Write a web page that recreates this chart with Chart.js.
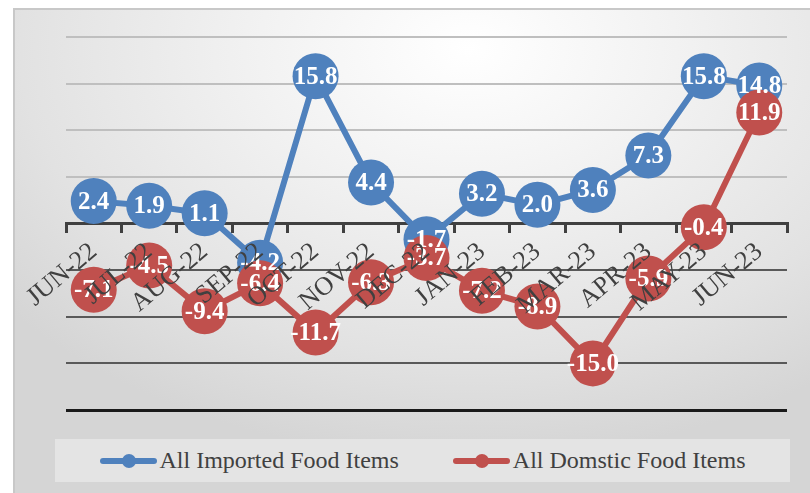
<!DOCTYPE html>
<html>
<head>
<meta charset="utf-8">
<script src="https://cdn.jsdelivr.net/npm/chart.js@4"></script>
<style>
  body { margin: 0; background: #fff; }
  #frame {
    position: absolute; left: 13px; top: 8px; width: 797px; height: 485px;
    border-left: 2px solid #c8c8c8; border-top: 2px solid #c8c8c8;
    box-sizing: border-box;
    background: radial-gradient(ellipse 75% 85% at 57% 8%, #ffffff 0%, #f2f2f2 35%, #e2e2e2 75%, #d5d5d5 100%);
  }
  #wrap { position: absolute; left: 0; top: 0; width: 810px; height: 493px; }
  #legend {
    position: absolute; left: 55px; top: 439px; width: 735px; height: 43px;
    background: #e4e4e4; display: flex; align-items: center; justify-content: center;
    font-family: "Liberation Serif", "Times New Roman", serif; font-size: 24px; color: #404040;
  }
  .item { display: flex; align-items: center; }
  .item + .item { margin-left: 54px; }
  .mark { position: relative; width: 57px; height: 6px; border-radius: 3px; margin-right: 3px; }
  .mark::after {
    content: ""; position: absolute; left: 22px; top: -4px; width: 14px; height: 14px;
    border-radius: 50%; background: inherit;
  }
</style>
</head>
<body>
<div id="frame"></div>
<div id="wrap"><canvas id="chart" width="810" height="493"></canvas></div>
<div id="legend"></div>
<script>
// data
const months = ['JUN-22', 'JUL-22', 'AUG-22', 'SEP-22', 'OCT-22', 'NOV-22', 'DEC-22',
                'JAN-23', 'FEB-23', 'MAR-23', 'APR-23', 'MAY-23', 'JUN-23'];
const imported = [2.4, 1.9, 1.1, -4.2, 15.8, 4.4, -1.7, 3.2, 2.0, 3.6, 7.3, 15.8, 14.8];
const domestic = [-7.1, -4.5, -9.4, -6.4, -11.7, -6.3, -3.7, -7.2, -8.9, -15.0, -5.9, -0.4, 11.9];
const seriesNames = ['All Imported Food Items', 'All Domstic Food Items'];
const yMin = -20, yMax = 20, yStep = 5;

const BLUE = '#4f81bd', RED = '#c0504d';
const serif = '"Liberation Serif", "Times New Roman", serif';

// white value inside each marker
const valueLabels = {
  id: 'valueLabels',
  afterDatasetsDraw(chart) {
    const ctx = chart.ctx;
    ctx.save();
    ctx.font = 'bold 25px ' + serif;
    ctx.fillStyle = '#fff';
    ctx.textAlign = 'center';
    ctx.textBaseline = 'middle';
    chart.data.datasets.forEach((ds, i) => {
      chart.getDatasetMeta(i).data.forEach((pt, j) => {
        ctx.fillText(ds.data[j].toFixed(1), pt.x, pt.y + 1);
      });
    });
    ctx.restore();
  }
};

// legend as html, items taken from the chart
const htmlLegend = {
  id: 'htmlLegend',
  afterUpdate(chart) {
    const box = document.getElementById('legend');
    box.innerHTML = '';
    const items = Chart.defaults.plugins.legend.labels.generateLabels(chart)
      .sort((a, b) => a.datasetIndex - b.datasetIndex);
    items.forEach(it => {
      const el = document.createElement('div');
      el.className = 'item';
      const m = document.createElement('span');
      m.className = 'mark';
      m.style.background = it.strokeStyle;
      const t = document.createElement('span');
      t.textContent = it.text;
      el.appendChild(m);
      el.appendChild(t);
      box.appendChild(el);
    });
  }
};

new Chart(document.getElementById('chart'), {
  type: 'line',
  data: {
    labels: months,
    datasets: [
      {
        label: seriesNames[0],
        data: imported,
        borderColor: BLUE,
        backgroundColor: BLUE,
        borderWidth: 6,
        pointRadius: 23,
        pointHoverRadius: 23,
        pointBorderWidth: 0,
        order: 1
      },
      {
        label: seriesNames[1],
        data: domestic,
        borderColor: RED,
        backgroundColor: RED,
        borderWidth: 6,
        pointRadius: 23,
        pointHoverRadius: 23,
        pointBorderWidth: 0,
        order: 0
      }
    ]
  },
  options: {
    responsive: false,
    animation: false,
    layout: { padding: { left: 66, right: 10, top: 37, bottom: 83 } },
    plugins: {
      legend: { display: false },
      tooltip: { enabled: false }
    },
    scales: {
      y: {
        min: yMin,
        max: yMax,
        ticks: { display: false, stepSize: yStep },
        border: { display: false },
        grid: {
          drawTicks: false,
          color: c => c.tick.value > 0 ? '#bfbfbf'
                    : c.tick.value === 0 ? 'rgba(0,0,0,0)'
                    : c.tick.value === yMin ? '#1a1a1a' : '#595959',
          lineWidth: c => c.tick.value === yMin ? 3 : 2
        },
        afterFit: s => { s.width = 0; }
      },
      x: {
        position: { y: 0 },
        offset: true,
        ticks: { display: false },
        border: { display: true, color: '#404040', width: 3 },
        grid: {
          offset: true,
          drawOnChartArea: false,
          drawTicks: true,
          tickLength: 8,
          color: '#404040',
          lineWidth: 3
        }
      },
      // month names, drawn above the markers
      x2: {
        type: 'category',
        position: { y: 0 },
        offset: true,
        border: { display: false },
        grid: { display: false },
        ticks: {
          z: 1,
          autoSkip: false,
          minRotation: 40,
          maxRotation: 40,
          padding: 5,
          color: '#404040',
          font: { family: serif, size: 26 }
        }
      }
    }
  },
  plugins: [valueLabels, htmlLegend]
});
</script>
</body>
</html>
